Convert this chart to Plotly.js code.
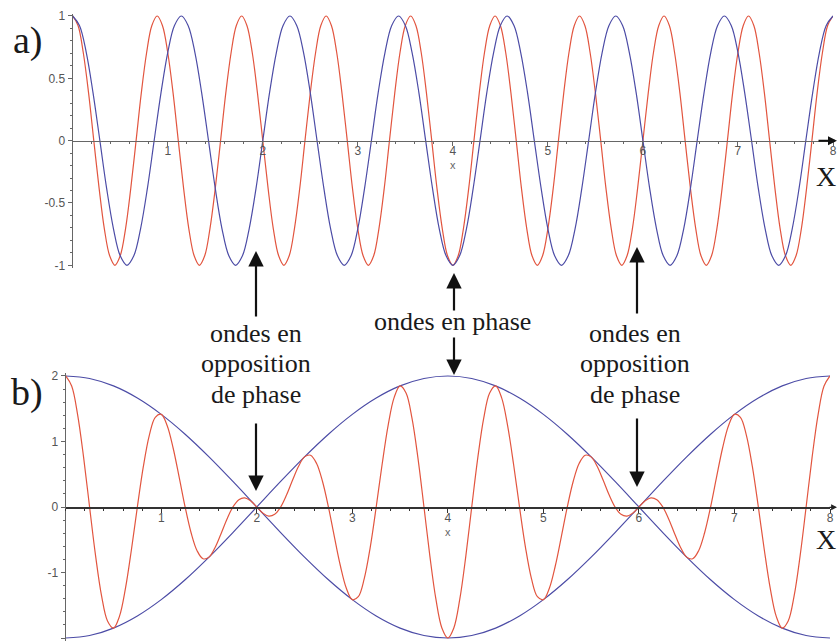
<!DOCTYPE html>
<html>
<head>
<meta charset="utf-8">
<script src="https://cdn.plot.ly/plotly-3.0.1.min.js"></script>
<style>
  html, body { margin: 0; padding: 0; background: #ffffff; }
  #chart { width: 838px; height: 642px; }
</style>
</head>
<body>
<div id="chart"></div>
<script>
// a) two cosine waves, sampled sixteen times per period
const waveRedX = [
  0, 0.056, 0.111, 0.167, 0.222, 0.278, 0.333, 0.389, 0.444, 0.5, 0.556, 0.611, 0.667, 0.722, 0.778, 0.833, 0.889, 0.944,
  1, 1.056, 1.111, 1.167, 1.222, 1.278, 1.333, 1.389, 1.444, 1.5, 1.556, 1.611, 1.667, 1.722, 1.778, 1.833, 1.889, 1.944,
  2, 2.056, 2.111, 2.167, 2.222, 2.278, 2.333, 2.389, 2.444, 2.5, 2.556, 2.611, 2.667, 2.722, 2.778, 2.833, 2.889, 2.944,
  3, 3.056, 3.111, 3.167, 3.222, 3.278, 3.333, 3.389, 3.444, 3.5, 3.556, 3.611, 3.667, 3.722, 3.778, 3.833, 3.889, 3.944,
  4, 4.056, 4.111, 4.167, 4.222, 4.278, 4.333, 4.389, 4.444, 4.5, 4.556, 4.611, 4.667, 4.722, 4.778, 4.833, 4.889, 4.944,
  5, 5.056, 5.111, 5.167, 5.222, 5.278, 5.333, 5.389, 5.444, 5.5, 5.556, 5.611, 5.667, 5.722, 5.778, 5.833, 5.889, 5.944,
  6, 6.056, 6.111, 6.167, 6.222, 6.278, 6.333, 6.389, 6.444, 6.5, 6.556, 6.611, 6.667, 6.722, 6.778, 6.833, 6.889, 6.944,
  7, 7.056, 7.111, 7.167, 7.222, 7.278, 7.333, 7.389, 7.444, 7.5, 7.556, 7.611, 7.667, 7.722, 7.778, 7.833, 7.889, 7.944,
  8
];
const waveRedY = [
  1, 0.924, 0.707, 0.383, 0, -0.383, -0.707, -0.924, -1, -0.924, -0.707, -0.383, 0, 0.383, 0.707, 0.924,
  1, 0.924, 0.707, 0.383, 0, -0.383, -0.707, -0.924, -1, -0.924, -0.707, -0.383, 0, 0.383, 0.707, 0.924,
  1, 0.924, 0.707, 0.383, 0, -0.383, -0.707, -0.924, -1, -0.924, -0.707, -0.383, 0, 0.383, 0.707, 0.924,
  1, 0.924, 0.707, 0.383, 0, -0.383, -0.707, -0.924, -1, -0.924, -0.707, -0.383, 0, 0.383, 0.707, 0.924,
  1, 0.924, 0.707, 0.383, 0, -0.383, -0.707, -0.924, -1, -0.924, -0.707, -0.383, 0, 0.383, 0.707, 0.924,
  1, 0.924, 0.707, 0.383, 0, -0.383, -0.707, -0.924, -1, -0.924, -0.707, -0.383, 0, 0.383, 0.707, 0.924,
  1, 0.924, 0.707, 0.383, 0, -0.383, -0.707, -0.924, -1, -0.924, -0.707, -0.383, 0, 0.383, 0.707, 0.924,
  1, 0.924, 0.707, 0.383, 0, -0.383, -0.707, -0.924, -1, -0.924, -0.707, -0.383, 0, 0.383, 0.707, 0.924,
  1, 0.924, 0.707, 0.383, 0, -0.383, -0.707, -0.924, -1, -0.924, -0.707, -0.383, 0, 0.383, 0.707, 0.924,
  1
];
const waveBlueX = [
  0, 0.071, 0.143, 0.214, 0.286, 0.357, 0.429, 0.5, 0.571, 0.643, 0.714, 0.786, 0.857, 0.929,
  1, 1.071, 1.143, 1.214, 1.286, 1.357, 1.429, 1.5, 1.571, 1.643, 1.714, 1.786, 1.857, 1.929,
  2, 2.071, 2.143, 2.214, 2.286, 2.357, 2.429, 2.5, 2.571, 2.643, 2.714, 2.786, 2.857, 2.929,
  3, 3.071, 3.143, 3.214, 3.286, 3.357, 3.429, 3.5, 3.571, 3.643, 3.714, 3.786, 3.857, 3.929,
  4, 4.071, 4.143, 4.214, 4.286, 4.357, 4.429, 4.5, 4.571, 4.643, 4.714, 4.786, 4.857, 4.929,
  5, 5.071, 5.143, 5.214, 5.286, 5.357, 5.429, 5.5, 5.571, 5.643, 5.714, 5.786, 5.857, 5.929,
  6, 6.071, 6.143, 6.214, 6.286, 6.357, 6.429, 6.5, 6.571, 6.643, 6.714, 6.786, 6.857, 6.929,
  7, 7.071, 7.143, 7.214, 7.286, 7.357, 7.429, 7.5, 7.571, 7.643, 7.714, 7.786, 7.857, 7.929,
  8
];
const waveBlueY = [
  1, 0.924, 0.707, 0.383, 0, -0.383, -0.707, -0.924, -1, -0.924, -0.707, -0.383, 0, 0.383, 0.707, 0.924,
  1, 0.924, 0.707, 0.383, 0, -0.383, -0.707, -0.924, -1, -0.924, -0.707, -0.383, 0, 0.383, 0.707, 0.924,
  1, 0.924, 0.707, 0.383, 0, -0.383, -0.707, -0.924, -1, -0.924, -0.707, -0.383, 0, 0.383, 0.707, 0.924,
  1, 0.924, 0.707, 0.383, 0, -0.383, -0.707, -0.924, -1, -0.924, -0.707, -0.383, 0, 0.383, 0.707, 0.924,
  1, 0.924, 0.707, 0.383, 0, -0.383, -0.707, -0.924, -1, -0.924, -0.707, -0.383, 0, 0.383, 0.707, 0.924,
  1, 0.924, 0.707, 0.383, 0, -0.383, -0.707, -0.924, -1, -0.924, -0.707, -0.383, 0, 0.383, 0.707, 0.924,
  1, 0.924, 0.707, 0.383, 0, -0.383, -0.707, -0.924, -1, -0.924, -0.707, -0.383, 0, 0.383, 0.707, 0.924,
  1
];

// b) their sum (beats) and the envelope
const sumX = [
  0, 0.0625, 0.125, 0.1875, 0.25, 0.3125, 0.375, 0.4375, 0.5, 0.5625, 0.625, 0.6875, 0.75, 0.8125, 0.875, 0.9375,
  1, 1.0625, 1.125, 1.1875, 1.25, 1.3125, 1.375, 1.4375, 1.5, 1.5625, 1.625, 1.6875, 1.75, 1.8125, 1.875, 1.9375,
  2, 2.0625, 2.125, 2.1875, 2.25, 2.3125, 2.375, 2.4375, 2.5, 2.5625, 2.625, 2.6875, 2.75, 2.8125, 2.875, 2.9375,
  3, 3.0625, 3.125, 3.1875, 3.25, 3.3125, 3.375, 3.4375, 3.5, 3.5625, 3.625, 3.6875, 3.75, 3.8125, 3.875, 3.9375,
  4, 4.0625, 4.125, 4.1875, 4.25, 4.3125, 4.375, 4.4375, 4.5, 4.5625, 4.625, 4.6875, 4.75, 4.8125, 4.875, 4.9375,
  5, 5.0625, 5.125, 5.1875, 5.25, 5.3125, 5.375, 5.4375, 5.5, 5.5625, 5.625, 5.6875, 5.75, 5.8125, 5.875, 5.9375,
  6, 6.0625, 6.125, 6.1875, 6.25, 6.3125, 6.375, 6.4375, 6.5, 6.5625, 6.625, 6.6875, 6.75, 6.8125, 6.875, 6.9375,
  7, 7.0625, 7.125, 7.1875, 7.25, 7.3125, 7.375, 7.4375, 7.5, 7.5625, 7.625, 7.6875, 7.75, 7.8125, 7.875, 7.9375,
  8
];
const sumY = [
  2, 1.846, 1.407, 0.757, 0, -0.742, -1.353, -1.740, -1.848, -1.670, -1.247, -0.656, 0, 0.615, 1.093, 1.369,
  1.414, 1.241, 0.897, 0.456, 0, -0.393, -0.667, -0.790, -0.765, -0.622, -0.411, -0.186, 0, 0.112, 0.139, 0.091,
  0, -0.091, -0.139, -0.112, 0, 0.186, 0.411, 0.622, 0.765, 0.790, 0.667, 0.393, 0, -0.456, -0.897, -1.241,
  -1.414, -1.369, -1.093, -0.615, 0, 0.656, 1.247, 1.670, 1.848, 1.740, 1.353, 0.742, 0, -0.757, -1.407, -1.846,
  -2, -1.846, -1.407, -0.757, 0, 0.742, 1.353, 1.740, 1.848, 1.670, 1.247, 0.656, 0, -0.615, -1.093, -1.369,
  -1.414, -1.241, -0.897, -0.456, 0, 0.393, 0.667, 0.790, 0.765, 0.622, 0.411, 0.186, 0, -0.112, -0.139, -0.091,
  0, 0.091, 0.139, 0.112, 0, -0.186, -0.411, -0.622, -0.765, -0.790, -0.667, -0.393, 0, 0.456, 0.897, 1.241,
  1.414, 1.369, 1.093, 0.615, 0, -0.656, -1.247, -1.670, -1.848, -1.740, -1.353, -0.742, 0, 0.757, 1.407, 1.846,
  2
];
const envX = [
  0, 0.25, 0.5, 0.75, 1, 1.25, 1.5, 1.75, 2, 2.25, 2.5, 2.75, 3, 3.25, 3.5, 3.75,
  4, 4.25, 4.5, 4.75, 5, 5.25, 5.5, 5.75, 6, 6.25, 6.5, 6.75, 7, 7.25, 7.5, 7.75, 8
];
const envUpper = [
  2, 1.962, 1.848, 1.663, 1.414, 1.111, 0.765, 0.390, 0, -0.390, -0.765, -1.111, -1.414, -1.663, -1.848, -1.962,
  -2, -1.962, -1.848, -1.663, -1.414, -1.111, -0.765, -0.390, 0, 0.390, 0.765, 1.111, 1.414, 1.663, 1.848, 1.962, 2
];
const envLower = [
  -2, -1.962, -1.848, -1.663, -1.414, -1.111, -0.765, -0.390, 0, 0.390, 0.765, 1.111, 1.414, 1.663, 1.848, 1.962,
  2, 1.962, 1.848, 1.663, 1.414, 1.111, 0.765, 0.390, 0, -0.390, -0.765, -1.111, -1.414, -1.663, -1.848, -1.962, -2
];

const xTickVals = [1, 2, 3, 4, 5, 6, 7, 8];
const yTicksA = [-1, -0.5, 0, 0.5, 1];
const yTicksB = [-2, -1, 0, 1, 2];

const W = 838, H = 642;
const fx = p => p / W;
const fy = p => 1 - p / H;

const RED = '#e2553f';
const BLUE = '#4c4ca6';

const line = (c) => ({ color: c, width: 1.2, shape: 'spline', smoothing: 1 });

const traces = [
  { x: waveRedX, y: waveRedY, xaxis: 'x', yaxis: 'y', mode: 'lines', line: line(RED), hoverinfo: 'skip' },
  { x: waveBlueX, y: waveBlueY, xaxis: 'x', yaxis: 'y', mode: 'lines', line: line(BLUE), hoverinfo: 'skip' },
  { x: envX, y: envUpper, xaxis: 'x2', yaxis: 'y2', mode: 'lines', line: line(BLUE), hoverinfo: 'skip' },
  { x: envX, y: envLower, xaxis: 'x2', yaxis: 'y2', mode: 'lines', line: line(BLUE), hoverinfo: 'skip' },
  { x: sumX, y: sumY, xaxis: 'x2', yaxis: 'y2', mode: 'lines', line: line(RED), hoverinfo: 'skip' }
];

const tickFont = { family: 'Liberation Sans, Arial, sans-serif', size: 12, color: '#555' };

function xAxis(domain, pos, lc) {
  return {
    domain: domain, range: [0, 8], anchor: 'free', position: pos,
    showline: true, linecolor: lc, linewidth: 1.3,
    ticks: 'outside', ticklen: 4, tickcolor: lc, tickwidth: 1,
    tickmode: 'array', tickvals: xTickVals, ticktext: xTickVals.map(String),
    tickfont: tickFont, ticklabelstandoff: -5, showgrid: false, zeroline: false,
    minor: { tickmode: 'linear', tick0: 0, dtick: 0.2, ticks: 'outside', ticklen: 2, tickcolor: lc, showgrid: false },
    fixedrange: true
  };
}
function yAxis(domain, range, ticks, minorStep, anchor) {
  return {
    domain: domain, range: range, anchor: anchor,
    showline: true, linecolor: '#666', linewidth: 1.2,
    ticks: 'outside', ticklen: 4, tickcolor: '#666',
    tickmode: 'array', tickvals: ticks, ticktext: ticks.map(String),
    tickfont: tickFont, showgrid: false, zeroline: false,
    minor: { tickmode: 'linear', tick0: 0, dtick: minorStep, ticks: 'outside', ticklen: 2, tickcolor: '#666', showgrid: false },
    fixedrange: true
  };
}

const serif = 'Liberation Serif, Times New Roman, serif';
const ann = [];
function label(text, px, py, size) {
  ann.push({ xref: 'paper', yref: 'paper', x: fx(px), y: fy(py), text: text, showarrow: false,
             xanchor: 'center', yanchor: 'middle', font: { family: serif, size: size, color: '#1a1a1a' } });
}
function arrow(px, tipY, tailY) {
  ann.push({ xref: 'paper', yref: 'paper', x: fx(px), y: fy(tipY), ax: 0, ay: tailY - tipY, text: '',
             showarrow: true, arrowhead: 2, arrowsize: 1.4, arrowwidth: 2.2, arrowcolor: '#111' });
}

// panel letters
label('a)', 28, 40, 38);
label('b)', 27, 392, 38);

// explanatory notes
label('ondes en', 256, 333, 26);
label('opposition', 256, 363, 26);
label('de phase', 256, 394, 26);
label('ondes en phase', 453, 321, 26);
label('ondes en', 635, 333, 26);
label('opposition', 635, 363, 26);
label('de phase', 635, 394, 26);

arrow(256, 251, 318);
arrow(256, 491, 422);
arrow(454, 273, 312);
arrow(454, 375, 336);
arrow(637, 247, 315);
arrow(637, 487, 417);

// axis names
ann.push({ xref: 'x', yref: 'y', x: 4, y: 0, yshift: -24, text: 'x', showarrow: false,
           font: { family: 'Liberation Sans, Arial, sans-serif', size: 11, color: '#666' } });
ann.push({ xref: 'x2', yref: 'y2', x: 4, y: 0, yshift: -25, text: 'x', showarrow: false,
           font: { family: 'Liberation Sans, Arial, sans-serif', size: 11, color: '#666' } });
label('X', 826, 176, 28);
label('X', 826, 539, 28);

// arrow tips at the end of each x axis
ann.push({ xref: 'paper', yref: 'paper', x: fx(837), y: fy(140.7), ax: -20, ay: 0, text: '',
           showarrow: true, arrowhead: 2, arrowsize: 0.9, arrowwidth: 2, arrowcolor: '#111' });
ann.push({ xref: 'paper', yref: 'paper', x: fx(838), y: fy(507.3), ax: -10, ay: 0, text: '',
           showarrow: true, arrowhead: 2, arrowsize: 0.9, arrowwidth: 1.3, arrowcolor: '#222' });

const layout = {
  width: W, height: H,
  margin: { l: 0, r: 0, t: 0, b: 0 },
  paper_bgcolor: '#ffffff', plot_bgcolor: 'rgba(0,0,0,0)',
  showlegend: false,
  xaxis: xAxis([fx(72.7), fx(833)], fy(140.7), '#666'),
  yaxis: yAxis([fy(267.8), fy(13.5)], [-1.02, 1.02], yTicksA, 0.1, 'x'),
  xaxis2: xAxis([fx(65.7), fx(830)], fy(507.3), '#333'),
  yaxis2: yAxis([fy(641.3), fy(372.7)], [-2.05, 2.05], yTicksB, 0.2, 'x2'),
  annotations: ann
};

Plotly.newPlot('chart', traces, layout, { displayModeBar: false, staticPlot: true });
</script>
</body>
</html>
